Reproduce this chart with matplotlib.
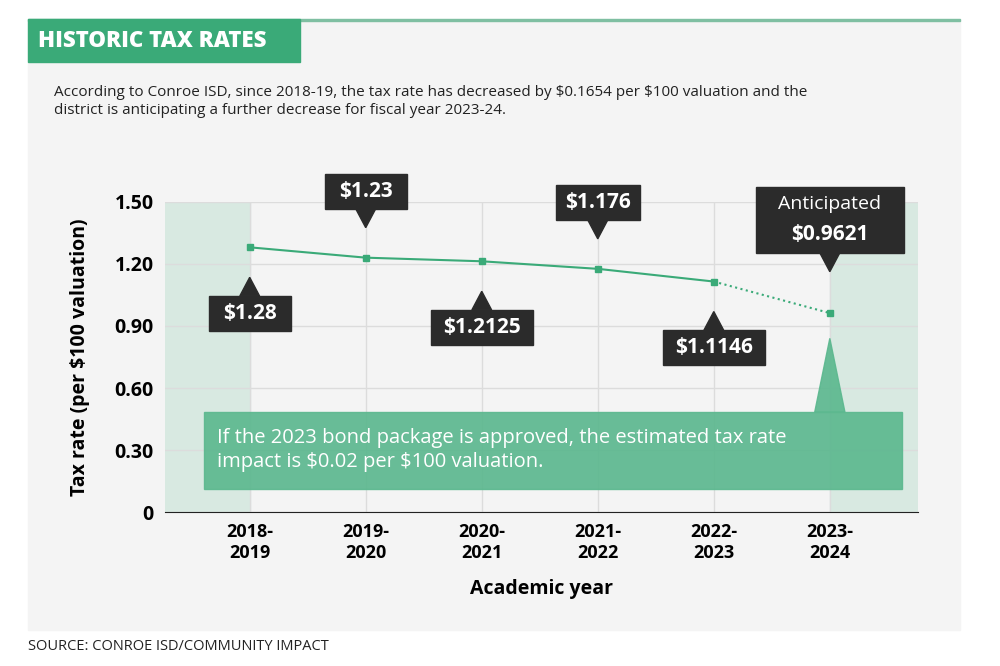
import matplotlib.pyplot as plt
from matplotlib.patches import Rectangle, Polygon

years = ["2018-\n2019", "2019-\n2020", "2020-\n2021", "2021-\n2022", "2022-\n2023", "2023-\n2024"]
rates = [1.28, 1.23, 1.2125, 1.176, 1.1146, 0.9621]
labels = ["$1.28", "$1.23", "$1.2125", "$1.176", "$1.1146", "$0.9621"]
# where each callout sits relative to the point: -1 below, +1 above
side = [-1, 1, -1, 1, -1, 1]
box_w = [0.71, 0.71, 0.88, 0.72, 0.88, 1.28]
box_h = [0.17, 0.17, 0.17, 0.17, 0.17, 0.32]
gap = [0.145, 0.145, 0.145, 0.145, 0.145, 0.2]

green = "#3aaa78"
dark = "#2b2b2b"
plt.rcParams['font.family'] = ['Open Sans', 'DejaVu Sans']
plt.rcParams['text.parse_math'] = False

fig = plt.figure(figsize=(10, 6.66), dpi=100)
fig.patches.append(Rectangle((0.028, 0.054), 0.932, 0.916, transform=fig.transFigure,
                             color="#f4f4f4", zorder=-2))
fig.patches.append(Rectangle((0.028, 0.968), 0.932, 0.003, transform=fig.transFigure,
                             color="#7fbfa2", zorder=-1))
fig.patches.append(Rectangle((0.028, 0.907), 0.272, 0.064, transform=fig.transFigure,
                             color=green, zorder=-1))
fig.text(0.038, 0.938, "HISTORIC TAX RATES", color="white", fontsize=16, fontweight="heavy",
         va="center")
fig.text(0.054, 0.848, "According to Conroe ISD, since 2018-19, the tax rate has decreased by $0.1654 per $100 valuation and the\n"
         "district is anticipating a further decrease for fiscal year 2023-24.",
         fontsize=11, va="center", color="#222", linespacing=1.3)
fig.text(0.028, 0.03, "SOURCE: CONROE ISD/COMMUNITY IMPACT", fontsize=10.5, va="center", color="#222")

ax = fig.add_axes([0.165, 0.231, 0.753, 0.466])
ax.set_facecolor("#f4f4f4")
x = list(range(len(years)))
ax.set_xlim(-0.73, 5.76)
ax.set_ylim(0, 1.5)
ax.axvspan(-0.73, 0, color="#d8e9e1", zorder=0)
ax.axvspan(5, 5.76, color="#d8e9e1", zorder=0)
ax.grid(True, color="#dcdcdc", lw=1, zorder=0.5)
ax.set_axisbelow(True)

ax.plot(x[:5], rates[:5], color=green, lw=1.5, marker="s", ms=5, zorder=3)
ax.plot(x[4:], rates[4:], color=green, lw=1.5, ls=":", zorder=3)
ax.plot(x[5], rates[5], color=green, marker="s", ms=5, zorder=3)

ph = 0.09
for i in range(len(rates)):
    s = side[i]
    tip = rates[i] + s * gap[i]
    base = tip + s * ph
    ax.add_patch(Polygon([(x[i] - 0.085, base), (x[i] + 0.085, base), (x[i], tip)],
                         color=dark, zorder=5, clip_on=False))
    y0 = base if s > 0 else base - box_h[i]
    ax.add_patch(Rectangle((x[i] - box_w[i] / 2, y0), box_w[i], box_h[i], color=dark,
                           zorder=5, clip_on=False))
    if i == 5:
        ax.text(x[i], y0 + 0.235, "Anticipated", ha="center", va="center", color="white",
                fontsize=14, zorder=6, clip_on=False)
        ax.text(x[i], y0 + 0.09, labels[i], ha="center", va="center", color="white",
                fontsize=15, fontweight="bold", zorder=6, clip_on=False)
    else:
        ax.text(x[i], y0 + box_h[i] / 2, labels[i], ha="center", va="center", color="white",
                fontsize=15, fontweight="bold", zorder=6, clip_on=False)

# bond note
ax.add_patch(Rectangle((-0.39, 0.111), 6.01, 0.373, color="#5cb88f", alpha=0.92, zorder=4))
ax.add_patch(Polygon([(4.87, 0.484), (5.13, 0.484), (5, 0.84)], color="#5cb88f", alpha=0.92, zorder=4))
ax.text(-0.28, 0.3, "If the 2023 bond package is approved, the estimated tax rate\nimpact is $0.02 per $100 valuation.",
        color="white", fontsize=14.5, va="center", zorder=5, linespacing=1.3)

ax.set_xticks(x)
ax.set_xticklabels(years, fontsize=13, fontweight="bold")
ax.set_yticks([0, 0.3, 0.6, 0.9, 1.2, 1.5])
ax.set_yticklabels(["0", "0.30", "0.60", "0.90", "1.20", "1.50"], fontsize=14, fontweight="bold")
ax.tick_params(length=0, pad=8)
for s in ["top", "right", "left"]:
    ax.spines[s].set_visible(False)
ax.spines["bottom"].set_color("#222")
ax.set_xlabel("Academic year", fontsize=14, fontweight="bold", labelpad=12)
ax.set_ylabel("Tax rate (per $100 valuation)", fontsize=14, fontweight="bold", labelpad=18)

fig.savefig("out.png", dpi=100)
